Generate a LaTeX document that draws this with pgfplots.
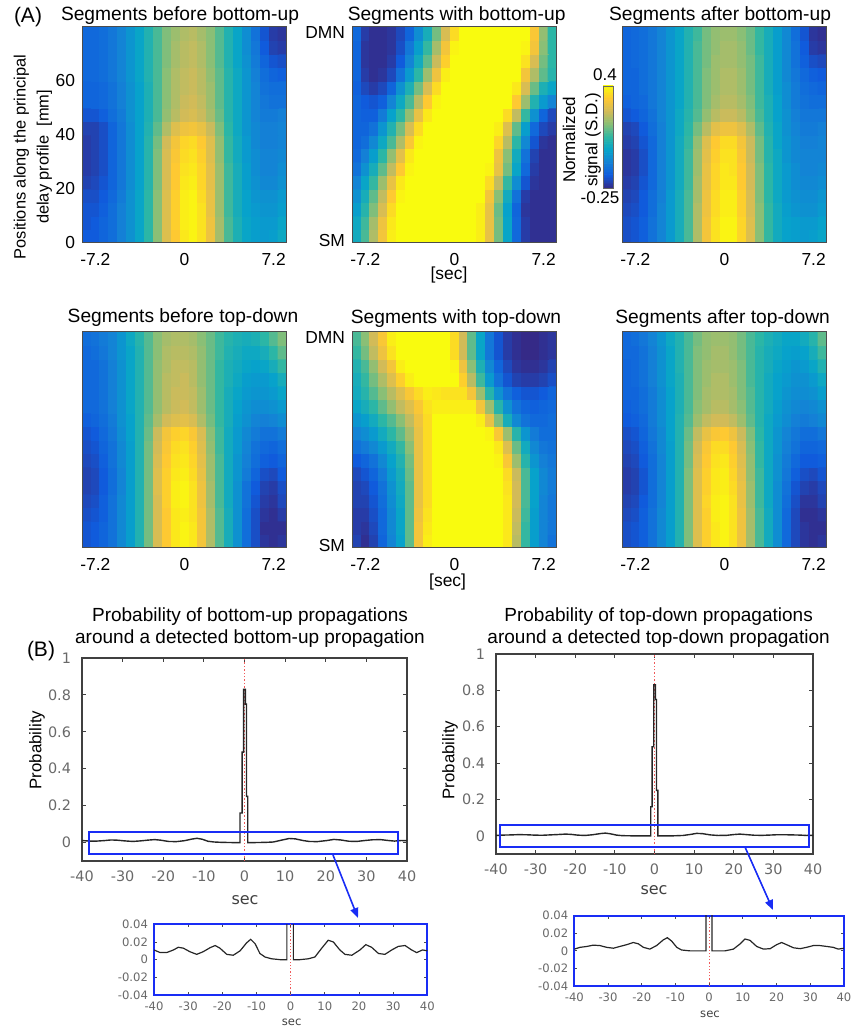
\documentclass[border=0pt]{standalone}
\usepackage{fontspec}
\setmainfont{Liberation Sans}
\newfontfamily\dejavu{DejaVu Sans}
\usepackage{pgfplots}
\usepackage{pgfplotstable}
\pgfplotsset{compat=1.18}
\usetikzlibrary{calc,arrows.meta}

\newcommand\tickfont{\fontsize{8.7pt}{10pt}\selectfont}
\newcommand\ttlfont{\fontsize{9.6pt}{11pt}\selectfont}
\newcommand\labfont{\fontsize{8.5pt}{9pt}\selectfont}
\newcommand\btick{\dejavu\fontsize{7.2pt}{8pt}\selectfont}
\newcommand\itick{\dejavu\fontsize{5.8pt}{7pt}\selectfont}
\definecolor{zoomblue}{RGB}{25,45,245}
\definecolor{refred}{RGB}{240,90,90}
\definecolor{ticktext}{RGB}{105,105,105}

% ---- heat maps: 16 rows (bottom to top, 0..80 mm) x 23 columns (-7.92..7.92 s)
\pgfplotstableread[row sep=\\,header=false]{
-0.17\\-0.17\\-0.15\\-0.13\\-0.09\\-0.05\\0.00\\0.07\\0.16\\0.26\\0.32\\0.37\\0.39\\0.36\\0.29\\0.19\\0.10\\0.04\\0.00\\-0.02\\-0.03\\-0.02\\0.01\\
-0.18\\-0.17\\-0.15\\-0.13\\-0.09\\-0.05\\0.00\\0.07\\0.16\\0.26\\0.33\\0.38\\0.39\\0.36\\0.29\\0.19\\0.10\\0.04\\0.00\\-0.02\\-0.03\\-0.03\\0.00\\
-0.18\\-0.18\\-0.16\\-0.13\\-0.09\\-0.05\\0.00\\0.07\\0.16\\0.26\\0.33\\0.38\\0.39\\0.36\\0.28\\0.18\\0.09\\0.03\\-0.01\\-0.03\\-0.04\\-0.04\\-0.02\\
-0.19\\-0.19\\-0.17\\-0.14\\-0.10\\-0.05\\0.00\\0.07\\0.16\\0.26\\0.33\\0.38\\0.39\\0.35\\0.28\\0.18\\0.09\\0.03\\-0.01\\-0.04\\-0.05\\-0.05\\-0.03\\
-0.21\\-0.20\\-0.18\\-0.15\\-0.11\\-0.06\\-0.01\\0.06\\0.15\\0.25\\0.32\\0.37\\0.38\\0.34\\0.27\\0.18\\0.09\\0.03\\-0.02\\-0.05\\-0.07\\-0.07\\-0.05\\
-0.22\\-0.21\\-0.19\\-0.15\\-0.11\\-0.06\\-0.01\\0.06\\0.15\\0.25\\0.32\\0.36\\0.37\\0.34\\0.27\\0.18\\0.09\\0.03\\-0.02\\-0.06\\-0.08\\-0.08\\-0.06\\
-0.22\\-0.21\\-0.19\\-0.15\\-0.11\\-0.06\\-0.01\\0.06\\0.15\\0.25\\0.31\\0.35\\0.36\\0.33\\0.26\\0.17\\0.08\\0.02\\-0.03\\-0.06\\-0.08\\-0.08\\-0.07\\
-0.22\\-0.21\\-0.19\\-0.15\\-0.11\\-0.06\\-0.01\\0.06\\0.14\\0.24\\0.30\\0.34\\0.35\\0.32\\0.26\\0.17\\0.08\\0.02\\-0.03\\-0.07\\-0.09\\-0.09\\-0.08\\
-0.21\\-0.21\\-0.19\\-0.15\\-0.11\\-0.06\\-0.01\\0.05\\0.12\\0.20\\0.26\\0.29\\0.30\\0.28\\0.23\\0.15\\0.07\\0.01\\-0.04\\-0.07\\-0.09\\-0.09\\-0.08\\
-0.18\\-0.18\\-0.16\\-0.13\\-0.10\\-0.05\\-0.01\\0.04\\0.10\\0.17\\0.21\\0.24\\0.25\\0.23\\0.19\\0.13\\0.06\\0.01\\-0.04\\-0.08\\-0.10\\-0.10\\-0.09\\
-0.15\\-0.15\\-0.14\\-0.12\\-0.09\\-0.05\\-0.01\\0.04\\0.10\\0.16\\0.20\\0.23\\0.24\\0.22\\0.18\\0.12\\0.06\\0.01\\-0.04\\-0.08\\-0.11\\-0.12\\-0.12\\
-0.15\\-0.15\\-0.14\\-0.12\\-0.09\\-0.05\\-0.01\\0.04\\0.10\\0.16\\0.20\\0.22\\0.23\\0.21\\0.18\\0.12\\0.06\\0.01\\-0.04\\-0.08\\-0.12\\-0.13\\-0.13\\
-0.14\\-0.14\\-0.13\\-0.11\\-0.08\\-0.04\\0.00\\0.05\\0.10\\0.16\\0.20\\0.22\\0.23\\0.21\\0.17\\0.12\\0.06\\0.01\\-0.04\\-0.09\\-0.13\\-0.15\\-0.16\\
-0.14\\-0.14\\-0.13\\-0.11\\-0.08\\-0.04\\0.00\\0.05\\0.10\\0.15\\0.19\\0.21\\0.22\\0.20\\0.16\\0.11\\0.05\\0.00\\-0.05\\-0.10\\-0.15\\-0.18\\-0.19\\
-0.14\\-0.14\\-0.13\\-0.11\\-0.08\\-0.04\\0.00\\0.05\\0.10\\0.15\\0.19\\0.21\\0.22\\0.20\\0.16\\0.11\\0.05\\0.00\\-0.06\\-0.11\\-0.17\\-0.21\\-0.22\\
-0.14\\-0.14\\-0.13\\-0.11\\-0.08\\-0.04\\0.00\\0.05\\0.10\\0.15\\0.18\\0.20\\0.21\\0.19\\0.16\\0.11\\0.05\\0.00\\-0.06\\-0.12\\-0.18\\-0.22\\-0.23\\
}\mapAa

\pgfplotstableread[row sep=\\,header=false]{
0.02\\0.10\\0.20\\0.30\\0.38\\0.40\\0.40\\0.40\\0.40\\0.40\\0.40\\0.40\\0.40\\0.40\\0.38\\0.28\\0.14\\0.00\\-0.14\\-0.22\\-0.24\\-0.24\\-0.24\\
0.01\\0.09\\0.19\\0.29\\0.37\\0.40\\0.40\\0.40\\0.40\\0.40\\0.40\\0.40\\0.40\\0.40\\0.38\\0.28\\0.14\\0.00\\-0.14\\-0.22\\-0.24\\-0.24\\-0.24\\
-0.02\\0.06\\0.15\\0.25\\0.35\\0.40\\0.40\\0.40\\0.40\\0.40\\0.40\\0.40\\0.40\\0.40\\0.38\\0.28\\0.13\\-0.01\\-0.15\\-0.23\\-0.24\\-0.24\\-0.24\\
-0.05\\0.03\\0.12\\0.22\\0.32\\0.39\\0.40\\0.40\\0.40\\0.40\\0.40\\0.40\\0.40\\0.40\\0.40\\0.30\\0.16\\0.02\\-0.12\\-0.22\\-0.24\\-0.24\\-0.24\\
-0.08\\0.00\\0.08\\0.18\\0.28\\0.37\\0.40\\0.40\\0.40\\0.40\\0.40\\0.40\\0.40\\0.40\\0.40\\0.35\\0.22\\0.08\\-0.06\\-0.18\\-0.23\\-0.24\\-0.24\\
-0.12\\-0.05\\0.03\\0.12\\0.22\\0.32\\0.39\\0.40\\0.40\\0.40\\0.40\\0.40\\0.40\\0.40\\0.40\\0.39\\0.28\\0.14\\0.00\\-0.14\\-0.22\\-0.24\\-0.24\\
-0.14\\-0.09\\-0.02\\0.07\\0.17\\0.27\\0.37\\0.40\\0.40\\0.40\\0.40\\0.40\\0.40\\0.40\\0.40\\0.40\\0.29\\0.16\\0.02\\-0.12\\-0.21\\-0.24\\-0.24\\
-0.15\\-0.13\\-0.07\\0.01\\0.10\\0.20\\0.31\\0.39\\0.40\\0.40\\0.40\\0.40\\0.40\\0.40\\0.40\\0.40\\0.34\\0.21\\0.07\\-0.07\\-0.18\\-0.23\\-0.24\\
-0.15\\-0.15\\-0.12\\-0.04\\0.05\\0.14\\0.25\\0.35\\0.40\\0.40\\0.40\\0.40\\0.40\\0.40\\0.40\\0.40\\0.38\\0.26\\0.12\\-0.02\\-0.14\\-0.20\\-0.22\\
-0.15\\-0.16\\-0.16\\-0.10\\-0.01\\0.07\\0.17\\0.28\\0.37\\0.40\\0.40\\0.40\\0.40\\0.40\\0.40\\0.40\\0.40\\0.35\\0.22\\0.08\\-0.05\\-0.15\\-0.20\\
-0.15\\-0.17\\-0.18\\-0.16\\-0.08\\0.01\\0.10\\0.21\\0.32\\0.39\\0.40\\0.40\\0.40\\0.40\\0.40\\0.40\\0.40\\0.40\\0.32\\0.18\\0.05\\-0.03\\-0.08\\
-0.16\\-0.20\\-0.22\\-0.20\\-0.15\\-0.05\\0.04\\0.14\\0.25\\0.35\\0.40\\0.40\\0.40\\0.40\\0.40\\0.40\\0.40\\0.40\\0.37\\0.25\\0.13\\0.04\\0.00\\
-0.15\\-0.22\\-0.24\\-0.23\\-0.20\\-0.12\\-0.03\\0.07\\0.18\\0.29\\0.38\\0.40\\0.40\\0.40\\0.40\\0.40\\0.40\\0.40\\0.40\\0.30\\0.20\\0.12\\0.06\\
-0.15\\-0.23\\-0.24\\-0.24\\-0.22\\-0.17\\-0.08\\0.02\\0.12\\0.23\\0.33\\0.40\\0.40\\0.40\\0.40\\0.40\\0.40\\0.40\\0.40\\0.36\\0.25\\0.14\\0.07\\
-0.15\\-0.23\\-0.24\\-0.24\\-0.23\\-0.19\\-0.11\\-0.02\\0.08\\0.19\\0.30\\0.39\\0.40\\0.40\\0.40\\0.40\\0.40\\0.40\\0.40\\0.39\\0.30\\0.16\\0.07\\
-0.14\\-0.22\\-0.24\\-0.24\\-0.23\\-0.20\\-0.15\\-0.06\\0.03\\0.14\\0.25\\0.35\\0.40\\0.40\\0.40\\0.40\\0.40\\0.40\\0.40\\0.40\\0.31\\0.17\\0.07\\
}\mapAb

\pgfplotstableread[row sep=\\,header=false]{
-0.19\\-0.18\\-0.16\\-0.12\\-0.08\\-0.03\\0.03\\0.10\\0.20\\0.30\\0.36\\0.39\\0.39\\0.34\\0.26\\0.16\\0.08\\0.02\\-0.01\\-0.02\\-0.03\\-0.02\\0.00\\
-0.19\\-0.18\\-0.16\\-0.12\\-0.08\\-0.03\\0.03\\0.10\\0.20\\0.30\\0.36\\0.39\\0.39\\0.34\\0.26\\0.16\\0.08\\0.02\\-0.01\\-0.02\\-0.03\\-0.03\\-0.01\\
-0.20\\-0.19\\-0.17\\-0.13\\-0.08\\-0.03\\0.03\\0.10\\0.20\\0.29\\0.35\\0.38\\0.38\\0.33\\0.25\\0.16\\0.08\\0.02\\-0.02\\-0.04\\-0.05\\-0.05\\-0.03\\
-0.21\\-0.20\\-0.17\\-0.13\\-0.09\\-0.03\\0.03\\0.10\\0.19\\0.29\\0.35\\0.38\\0.38\\0.33\\0.25\\0.15\\0.07\\0.01\\-0.03\\-0.05\\-0.06\\-0.06\\-0.04\\
-0.22\\-0.21\\-0.18\\-0.14\\-0.09\\-0.04\\0.02\\0.09\\0.19\\0.28\\0.34\\0.37\\0.37\\0.32\\0.24\\0.15\\0.07\\0.01\\-0.03\\-0.06\\-0.07\\-0.07\\-0.06\\
-0.23\\-0.22\\-0.19\\-0.14\\-0.09\\-0.04\\0.02\\0.09\\0.18\\0.28\\0.34\\0.37\\0.36\\0.32\\0.24\\0.15\\0.07\\0.01\\-0.03\\-0.06\\-0.08\\-0.08\\-0.07\\
-0.23\\-0.22\\-0.19\\-0.14\\-0.09\\-0.04\\0.02\\0.09\\0.18\\0.27\\0.33\\0.36\\0.36\\0.31\\0.23\\0.14\\0.06\\0.01\\-0.04\\-0.07\\-0.08\\-0.08\\-0.08\\
-0.22\\-0.21\\-0.18\\-0.14\\-0.09\\-0.04\\0.02\\0.08\\0.17\\0.26\\0.32\\0.35\\0.35\\0.30\\0.23\\0.14\\0.06\\0.00\\-0.04\\-0.07\\-0.09\\-0.09\\-0.08\\
-0.21\\-0.20\\-0.17\\-0.13\\-0.09\\-0.04\\0.01\\0.07\\0.14\\0.21\\0.27\\0.29\\0.29\\0.26\\0.20\\0.12\\0.05\\0.00\\-0.05\\-0.08\\-0.10\\-0.10\\-0.09\\
-0.18\\-0.17\\-0.15\\-0.12\\-0.08\\-0.04\\0.01\\0.06\\0.11\\0.17\\0.21\\0.23\\0.23\\0.21\\0.16\\0.10\\0.04\\-0.01\\-0.05\\-0.09\\-0.11\\-0.11\\-0.11\\
-0.16\\-0.15\\-0.14\\-0.11\\-0.08\\-0.04\\0.00\\0.05\\0.10\\0.15\\0.19\\0.21\\0.21\\0.19\\0.15\\0.09\\0.04\\-0.01\\-0.06\\-0.10\\-0.12\\-0.13\\-0.13\\
-0.15\\-0.15\\-0.13\\-0.11\\-0.08\\-0.04\\0.00\\0.05\\0.10\\0.15\\0.18\\0.20\\0.20\\0.18\\0.14\\0.09\\0.03\\-0.02\\-0.06\\-0.10\\-0.13\\-0.14\\-0.15\\
-0.15\\-0.15\\-0.13\\-0.11\\-0.08\\-0.04\\0.00\\0.05\\0.10\\0.15\\0.18\\0.20\\0.20\\0.18\\0.14\\0.09\\0.03\\-0.02\\-0.07\\-0.11\\-0.14\\-0.16\\-0.17\\
-0.15\\-0.14\\-0.13\\-0.11\\-0.08\\-0.04\\0.00\\0.05\\0.10\\0.14\\0.18\\0.19\\0.19\\0.17\\0.14\\0.09\\0.03\\-0.02\\-0.07\\-0.12\\-0.16\\-0.19\\-0.20\\
-0.15\\-0.14\\-0.13\\-0.11\\-0.08\\-0.04\\0.00\\0.05\\0.10\\0.14\\0.17\\0.19\\0.19\\0.17\\0.13\\0.08\\0.03\\-0.02\\-0.07\\-0.12\\-0.17\\-0.22\\-0.23\\
-0.15\\-0.14\\-0.13\\-0.11\\-0.08\\-0.04\\0.00\\0.05\\0.09\\0.14\\0.17\\0.18\\0.18\\0.16\\0.13\\0.08\\0.03\\-0.02\\-0.07\\-0.13\\-0.18\\-0.23\\-0.24\\
}\mapAc

\pgfplotstableread[row sep=\\,header=false]{
-0.18\\-0.17\\-0.15\\-0.12\\-0.07\\-0.02\\0.05\\0.14\\0.25\\0.32\\0.37\\0.39\\0.37\\0.30\\0.20\\0.11\\0.03\\-0.05\\-0.13\\-0.19\\-0.23\\-0.24\\-0.23\\
-0.18\\-0.17\\-0.15\\-0.12\\-0.07\\-0.02\\0.05\\0.14\\0.25\\0.32\\0.37\\0.39\\0.37\\0.30\\0.20\\0.11\\0.03\\-0.05\\-0.13\\-0.19\\-0.24\\-0.24\\-0.24\\
-0.19\\-0.18\\-0.16\\-0.12\\-0.07\\-0.02\\0.05\\0.14\\0.25\\0.32\\0.37\\0.38\\0.36\\0.30\\0.20\\0.11\\0.03\\-0.05\\-0.13\\-0.19\\-0.23\\-0.24\\-0.22\\
-0.20\\-0.19\\-0.16\\-0.12\\-0.07\\-0.02\\0.05\\0.14\\0.25\\0.33\\0.38\\0.39\\0.36\\0.29\\0.19\\0.10\\0.02\\-0.05\\-0.12\\-0.18\\-0.22\\-0.23\\-0.20\\
-0.21\\-0.20\\-0.17\\-0.13\\-0.08\\-0.02\\0.05\\0.14\\0.26\\0.33\\0.38\\0.39\\0.36\\0.29\\0.19\\0.10\\0.02\\-0.05\\-0.12\\-0.17\\-0.21\\-0.22\\-0.19\\
-0.21\\-0.20\\-0.17\\-0.13\\-0.08\\-0.02\\0.05\\0.14\\0.26\\0.33\\0.37\\0.38\\0.35\\0.28\\0.18\\0.10\\0.02\\-0.04\\-0.10\\-0.15\\-0.19\\-0.20\\-0.17\\
-0.20\\-0.19\\-0.16\\-0.12\\-0.07\\-0.02\\0.05\\0.14\\0.25\\0.32\\0.36\\0.37\\0.34\\0.27\\0.18\\0.10\\0.02\\-0.04\\-0.09\\-0.13\\-0.16\\-0.17\\-0.15\\
-0.19\\-0.18\\-0.15\\-0.12\\-0.07\\-0.02\\0.05\\0.14\\0.24\\0.31\\0.35\\0.36\\0.33\\0.26\\0.17\\0.09\\0.02\\-0.03\\-0.08\\-0.12\\-0.14\\-0.15\\-0.13\\
-0.18\\-0.17\\-0.14\\-0.11\\-0.06\\-0.01\\0.05\\0.13\\0.23\\0.30\\0.33\\0.34\\0.31\\0.25\\0.16\\0.09\\0.02\\-0.03\\-0.07\\-0.10\\-0.12\\-0.12\\-0.10\\
-0.16\\-0.15\\-0.13\\-0.10\\-0.05\\-0.01\\0.05\\0.12\\0.19\\0.24\\0.26\\0.27\\0.25\\0.20\\0.14\\0.08\\0.03\\-0.02\\-0.05\\-0.08\\-0.09\\-0.08\\-0.06\\
-0.14\\-0.14\\-0.12\\-0.09\\-0.05\\0.00\\0.05\\0.11\\0.17\\0.21\\0.23\\0.24\\0.22\\0.18\\0.13\\0.08\\0.03\\-0.01\\-0.04\\-0.06\\-0.06\\-0.05\\-0.03\\
-0.14\\-0.14\\-0.12\\-0.09\\-0.05\\0.00\\0.05\\0.11\\0.17\\0.21\\0.23\\0.23\\0.22\\0.18\\0.13\\0.08\\0.03\\0.00\\-0.03\\-0.04\\-0.04\\-0.03\\0.00\\
-0.14\\-0.14\\-0.12\\-0.09\\-0.05\\0.00\\0.05\\0.11\\0.17\\0.21\\0.22\\0.23\\0.21\\0.17\\0.13\\0.08\\0.04\\0.01\\-0.02\\-0.03\\-0.03\\-0.01\\0.03\\
-0.14\\-0.14\\-0.12\\-0.09\\-0.05\\0.00\\0.05\\0.11\\0.17\\0.20\\0.22\\0.22\\0.21\\0.17\\0.13\\0.08\\0.04\\0.02\\0.00\\-0.01\\0.00\\0.03\\0.08\\
-0.14\\-0.13\\-0.11\\-0.08\\-0.04\\0.00\\0.05\\0.11\\0.16\\0.20\\0.21\\0.21\\0.20\\0.17\\0.13\\0.09\\0.05\\0.03\\0.01\\0.01\\0.03\\0.07\\0.12\\
-0.13\\-0.12\\-0.10\\-0.08\\-0.04\\0.01\\0.06\\0.11\\0.16\\0.19\\0.20\\0.20\\0.19\\0.16\\0.13\\0.09\\0.06\\0.04\\0.03\\0.04\\0.07\\0.11\\0.15\\
}\mapBa

\pgfplotstableread[row sep=\\,header=false]{
-0.21\\-0.24\\-0.21\\-0.15\\-0.08\\-0.01\\0.12\\0.30\\0.38\\0.40\\0.40\\0.40\\0.40\\0.40\\0.40\\0.40\\0.40\\0.37\\0.21\\0.08\\-0.02\\-0.08\\-0.12\\
-0.22\\-0.23\\-0.20\\-0.14\\-0.07\\0.00\\0.12\\0.30\\0.37\\0.40\\0.40\\0.40\\0.40\\0.40\\0.40\\0.40\\0.40\\0.37\\0.22\\0.08\\-0.02\\-0.08\\-0.11\\
-0.22\\-0.22\\-0.19\\-0.14\\-0.07\\0.00\\0.12\\0.29\\0.36\\0.40\\0.40\\0.40\\0.40\\0.40\\0.40\\0.40\\0.40\\0.37\\0.23\\0.09\\-0.02\\-0.08\\-0.11\\
-0.21\\-0.21\\-0.18\\-0.13\\-0.06\\0.01\\0.12\\0.28\\0.35\\0.40\\0.40\\0.40\\0.40\\0.40\\0.40\\0.40\\0.40\\0.37\\0.24\\0.10\\-0.01\\-0.08\\-0.11\\
-0.21\\-0.20\\-0.17\\-0.12\\-0.05\\0.02\\0.12\\0.28\\0.35\\0.40\\0.40\\0.40\\0.40\\0.40\\0.40\\0.40\\0.40\\0.36\\0.24\\0.10\\-0.01\\-0.07\\-0.10\\
-0.20\\-0.18\\-0.15\\-0.10\\-0.03\\0.03\\0.13\\0.28\\0.35\\0.40\\0.40\\0.40\\0.40\\0.40\\0.40\\0.40\\0.40\\0.35\\0.23\\0.10\\-0.01\\-0.07\\-0.10\\
-0.17\\-0.15\\-0.12\\-0.07\\-0.01\\0.05\\0.14\\0.28\\0.35\\0.40\\0.40\\0.40\\0.40\\0.40\\0.40\\0.40\\0.39\\0.31\\0.18\\0.06\\-0.04\\-0.09\\-0.11\\
-0.12\\-0.10\\-0.07\\-0.03\\0.02\\0.08\\0.16\\0.28\\0.35\\0.40\\0.40\\0.40\\0.40\\0.40\\0.40\\0.40\\0.37\\0.26\\0.13\\0.02\\-0.07\\-0.11\\-0.12\\
-0.08\\-0.06\\-0.03\\0.02\\0.07\\0.12\\0.19\\0.28\\0.35\\0.40\\0.40\\0.40\\0.40\\0.40\\0.40\\0.39\\0.31\\0.18\\0.06\\-0.04\\-0.10\\-0.13\\-0.13\\
-0.04\\-0.02\\0.02\\0.07\\0.11\\0.16\\0.22\\0.29\\0.35\\0.40\\0.40\\0.40\\0.40\\0.40\\0.38\\0.28\\0.15\\0.03\\-0.07\\-0.12\\-0.14\\-0.14\\-0.13\\
0.00\\0.03\\0.07\\0.12\\0.17\\0.22\\0.26\\0.31\\0.36\\0.38\\0.38\\0.38\\0.38\\0.38\\0.30\\0.18\\0.06\\-0.05\\-0.12\\-0.15\\-0.16\\-0.15\\-0.14\\
0.02\\0.06\\0.11\\0.16\\0.21\\0.26\\0.31\\0.35\\0.38\\0.37\\0.36\\0.36\\0.36\\0.30\\0.18\\0.06\\-0.05\\-0.12\\-0.16\\-0.18\\-0.18\\-0.17\\-0.15\\
0.03\\0.08\\0.14\\0.20\\0.26\\0.33\\0.38\\0.40\\0.40\\0.40\\0.40\\0.40\\0.33\\0.21\\0.09\\-0.03\\-0.12\\-0.18\\-0.21\\-0.22\\-0.22\\-0.21\\-0.19\\
0.05\\0.10\\0.17\\0.24\\0.30\\0.38\\0.40\\0.40\\0.40\\0.40\\0.40\\0.39\\0.29\\0.16\\0.04\\-0.07\\-0.15\\-0.20\\-0.23\\-0.24\\-0.24\\-0.23\\-0.21\\
0.08\\0.14\\0.22\\0.29\\0.36\\0.40\\0.40\\0.40\\0.40\\0.40\\0.40\\0.35\\0.24\\0.12\\0.00\\-0.11\\-0.18\\-0.22\\-0.24\\-0.25\\-0.25\\-0.24\\-0.23\\
0.10\\0.16\\0.24\\0.31\\0.38\\0.40\\0.40\\0.40\\0.40\\0.40\\0.40\\0.35\\0.24\\0.12\\0.00\\-0.11\\-0.18\\-0.22\\-0.24\\-0.25\\-0.25\\-0.24\\-0.23\\
}\mapBb

\pgfplotstableread[row sep=\\,header=false]{
-0.19\\-0.18\\-0.16\\-0.12\\-0.07\\-0.02\\0.05\\0.15\\0.26\\0.33\\0.37\\0.39\\0.36\\0.29\\0.19\\0.10\\0.02\\-0.06\\-0.14\\-0.20\\-0.23\\-0.24\\-0.23\\
-0.19\\-0.18\\-0.16\\-0.12\\-0.07\\-0.02\\0.05\\0.15\\0.26\\0.33\\0.37\\0.39\\0.36\\0.29\\0.19\\0.10\\0.02\\-0.06\\-0.14\\-0.20\\-0.23\\-0.24\\-0.24\\
-0.20\\-0.19\\-0.16\\-0.12\\-0.07\\-0.02\\0.05\\0.15\\0.26\\0.33\\0.38\\0.39\\0.36\\0.29\\0.19\\0.10\\0.02\\-0.06\\-0.14\\-0.20\\-0.24\\-0.24\\-0.23\\
-0.21\\-0.20\\-0.17\\-0.13\\-0.08\\-0.02\\0.05\\0.15\\0.26\\0.34\\0.38\\0.39\\0.36\\0.28\\0.18\\0.09\\0.01\\-0.06\\-0.13\\-0.19\\-0.23\\-0.23\\-0.21\\
-0.22\\-0.21\\-0.18\\-0.13\\-0.08\\-0.02\\0.05\\0.15\\0.26\\0.33\\0.37\\0.38\\0.35\\0.28\\0.18\\0.09\\0.01\\-0.06\\-0.12\\-0.18\\-0.21\\-0.22\\-0.20\\
-0.22\\-0.21\\-0.18\\-0.13\\-0.08\\-0.02\\0.05\\0.15\\0.26\\0.33\\0.37\\0.38\\0.34\\0.27\\0.17\\0.09\\0.01\\-0.05\\-0.11\\-0.16\\-0.19\\-0.20\\-0.18\\
-0.21\\-0.20\\-0.17\\-0.13\\-0.08\\-0.02\\0.05\\0.14\\0.25\\0.32\\0.36\\0.37\\0.33\\0.26\\0.17\\0.08\\0.01\\-0.05\\-0.10\\-0.14\\-0.17\\-0.17\\-0.16\\
-0.20\\-0.19\\-0.16\\-0.12\\-0.07\\-0.02\\0.05\\0.14\\0.24\\0.31\\0.35\\0.35\\0.32\\0.25\\0.16\\0.08\\0.01\\-0.04\\-0.09\\-0.12\\-0.15\\-0.15\\-0.14\\
-0.19\\-0.18\\-0.15\\-0.11\\-0.07\\-0.01\\0.05\\0.13\\0.22\\0.28\\0.31\\0.32\\0.29\\0.23\\0.15\\0.07\\0.01\\-0.04\\-0.08\\-0.11\\-0.13\\-0.13\\-0.11\\
-0.17\\-0.16\\-0.14\\-0.10\\-0.06\\-0.01\\0.05\\0.11\\0.18\\0.22\\0.24\\0.24\\0.22\\0.18\\0.12\\0.06\\0.01\\-0.03\\-0.06\\-0.09\\-0.10\\-0.09\\-0.07\\
-0.16\\-0.15\\-0.13\\-0.10\\-0.06\\-0.01\\0.04\\0.10\\0.16\\0.19\\0.21\\0.21\\0.19\\0.16\\0.11\\0.06\\0.02\\-0.02\\-0.05\\-0.07\\-0.08\\-0.07\\-0.05\\
-0.15\\-0.15\\-0.13\\-0.10\\-0.06\\-0.01\\0.04\\0.10\\0.15\\0.19\\0.20\\0.20\\0.19\\0.15\\0.11\\0.06\\0.02\\-0.01\\-0.04\\-0.06\\-0.06\\-0.05\\-0.02\\
-0.15\\-0.14\\-0.12\\-0.09\\-0.05\\0.00\\0.04\\0.10\\0.15\\0.18\\0.20\\0.20\\0.18\\0.15\\0.10\\0.06\\0.02\\-0.01\\-0.03\\-0.05\\-0.05\\-0.03\\0.01\\
-0.15\\-0.14\\-0.12\\-0.09\\-0.05\\0.00\\0.05\\0.10\\0.15\\0.18\\0.19\\0.19\\0.18\\0.15\\0.10\\0.06\\0.03\\0.00\\-0.02\\-0.04\\-0.03\\0.00\\0.05\\
-0.14\\-0.14\\-0.12\\-0.09\\-0.05\\0.00\\0.05\\0.10\\0.15\\0.17\\0.19\\0.19\\0.17\\0.14\\0.10\\0.06\\0.03\\0.01\\-0.01\\-0.02\\-0.01\\0.03\\0.09\\
-0.14\\-0.13\\-0.11\\-0.08\\-0.04\\0.01\\0.05\\0.10\\0.14\\0.17\\0.18\\0.18\\0.17\\0.14\\0.10\\0.07\\0.04\\0.02\\0.00\\0.00\\0.02\\0.06\\0.12\\
}\mapBc

\pgfplotsset{
  colormap={parula}{rgb255=(53,42,135) rgb255=(15,92,221) rgb255=(20,129,214) rgb255=(6,164,202) rgb255=(46,183,164) rgb255=(135,191,119) rgb255=(209,187,89) rgb255=(254,200,50) rgb255=(249,251,14)},
  heat/.style={scale only axis, width=102.5pt, height=108pt, anchor=north west,
    xmin=-8.28, xmax=8.28, ymin=0, ymax=80, enlargelimits=false,
    colormap name=parula, point meta min=-0.25, point meta max=0.4,
    axis line style={draw=black!70, line width=0.5pt},
    major tick length=0pt,
    xtick={-7.2,0,7.2}, xticklabels={-7.2,0,7.2},
    ytick=\empty,
    tick label style={font=\tickfont},
    xticklabel style={yshift=-1.5pt},
    axis on top},
  probmain/.style={scale only axis, anchor=north west,
    xmin=-40, xmax=40, ymin=-0.1, ymax=1,
    xtick={-40,-30,-20,-10,0,10,20,30,40},
    xticklabels={-40,-30,-20,-10,0,10,20,30,40},
    ytick={0,0.2,0.4,0.6,0.8,1},
    yticklabels={0,0.2,0.4,0.6,0.8,1},
    scaled ticks=false,
    tick align=inside, major tick length=2.2pt,
    axis line style={draw=black!75, line width=0.6pt},
    tick style={draw=black!75, line width=0.5pt},
    tick label style={font=\btick, text=ticktext},
    xticklabel style={yshift=-1.5pt},
    yticklabel style={xshift=-2pt}},
  probinset/.style={scale only axis, anchor=north west,
    xmin=-40, xmax=40, ymin=-0.04, ymax=0.04,
    xtick={-40,-30,-20,-10,0,10,20,30,40},
    xticklabels={-40,-30,-20,-10,0,10,20,30,40},
    ytick={-0.04,-0.02,0,0.02,0.04},
    yticklabels={-0.04,-0.02,0,0.02,0.04},
    scaled ticks=false,
    tick align=inside, major tick length=1.5pt,
    axis line style={draw=zoomblue, line width=1pt},
    tick style={draw=black!70, line width=0.4pt},
    tick label style={font=\itick, text=ticktext},
    yticklabel style={xshift=0.5pt}},
}
\newcommand\heat[1]{\addplot[matrix plot*, mesh/cols=23, point meta=explicit]
  table[x index=0, y index=0, z index=0, meta index=0,
        x expr={-7.92+0.72*(\coordindex-23*floor((\coordindex+0.5)/23))},
        y expr={2.5+5*floor((\coordindex+0.5)/23)}] {#1};}

\begin{document}
\begin{tikzpicture}
\path[use as bounding box] (0,0) rectangle (426pt,-515.5pt);

% ===== Panel A, row 1
\begin{axis}[heat, at={(41pt,-13.5pt)}, ytick={0,20,40,60}, yticklabels={0,20,40,60}]
\heat{\mapAa}
\end{axis}
\begin{axis}[heat, at={(176pt,-13.5pt)}, ytick={0.8,78}, yticklabels={SM,DMN}]
\heat{\mapAb}
\end{axis}
\begin{axis}[heat, at={(311pt,-13.5pt)}]
\heat{\mapAc}
\end{axis}

% colour scale (-0.25 .. 0.4)
\begin{axis}[at={(301.5pt,-43pt)}, anchor=north west, scale only axis,
  width=5pt, height=51pt, xmin=0, xmax=1, ymin=-0.25, ymax=0.4,
  enlargelimits=false, xtick=\empty, ytick=\empty,
  colormap name=parula, point meta min=-0.25, point meta max=0.4,
  axis line style={draw=black!60, line width=0.4pt}, axis on top]
\addplot[matrix plot*, mesh/cols=2, point meta=y] coordinates {
(0.25,-0.25) (0.75,-0.25) (0.25,-0.24) (0.75,-0.24) (0.25,-0.23) (0.75,-0.23)
(0.25,-0.22) (0.75,-0.22) (0.25,-0.21) (0.75,-0.21) (0.25,-0.20) (0.75,-0.20)
(0.25,-0.19) (0.75,-0.19) (0.25,-0.18) (0.75,-0.18) (0.25,-0.17) (0.75,-0.17)
(0.25,-0.16) (0.75,-0.16) (0.25,-0.15) (0.75,-0.15) (0.25,-0.14) (0.75,-0.14)
(0.25,-0.13) (0.75,-0.13) (0.25,-0.12) (0.75,-0.12) (0.25,-0.11) (0.75,-0.11)
(0.25,-0.10) (0.75,-0.10) (0.25,-0.09) (0.75,-0.09) (0.25,-0.08) (0.75,-0.08)
(0.25,-0.07) (0.75,-0.07) (0.25,-0.06) (0.75,-0.06) (0.25,-0.05) (0.75,-0.05)
(0.25,-0.04) (0.75,-0.04) (0.25,-0.03) (0.75,-0.03) (0.25,-0.02) (0.75,-0.02)
(0.25,-0.01) (0.75,-0.01) (0.25,0.00) (0.75,0.00) (0.25,0.01) (0.75,0.01)
(0.25,0.02) (0.75,0.02) (0.25,0.03) (0.75,0.03) (0.25,0.04) (0.75,0.04)
(0.25,0.05) (0.75,0.05) (0.25,0.06) (0.75,0.06) (0.25,0.07) (0.75,0.07)
(0.25,0.08) (0.75,0.08) (0.25,0.09) (0.75,0.09) (0.25,0.10) (0.75,0.10)
(0.25,0.11) (0.75,0.11) (0.25,0.12) (0.75,0.12) (0.25,0.13) (0.75,0.13)
(0.25,0.14) (0.75,0.14) (0.25,0.15) (0.75,0.15) (0.25,0.16) (0.75,0.16)
(0.25,0.17) (0.75,0.17) (0.25,0.18) (0.75,0.18) (0.25,0.19) (0.75,0.19)
(0.25,0.20) (0.75,0.20) (0.25,0.21) (0.75,0.21) (0.25,0.22) (0.75,0.22)
(0.25,0.23) (0.75,0.23) (0.25,0.24) (0.75,0.24) (0.25,0.25) (0.75,0.25)
(0.25,0.26) (0.75,0.26) (0.25,0.27) (0.75,0.27) (0.25,0.28) (0.75,0.28)
(0.25,0.29) (0.75,0.29) (0.25,0.30) (0.75,0.30) (0.25,0.31) (0.75,0.31)
(0.25,0.32) (0.75,0.32) (0.25,0.33) (0.75,0.33) (0.25,0.34) (0.75,0.34)
(0.25,0.35) (0.75,0.35) (0.25,0.36) (0.75,0.36) (0.25,0.37) (0.75,0.37)
(0.25,0.38) (0.75,0.38) (0.25,0.39) (0.75,0.39) (0.25,0.40) (0.75,0.40)};
\end{axis}

% ===== Panel A, row 2
\begin{axis}[heat, at={(41pt,-166pt)}]
\heat{\mapBa}
\end{axis}
\begin{axis}[heat, at={(176pt,-166pt)}, ytick={0.8,78}, yticklabels={SM,DMN}]
\heat{\mapBb}
\end{axis}
\begin{axis}[heat, at={(311pt,-166pt)}]
\heat{\mapBc}
\end{axis}

% titles and labels of panel A
\node[font=\fontsize{10.5pt}{12pt}\selectfont] at (14pt,-8.5pt) {(A)};
\node[font=\ttlfont] at (90pt,-8pt) {Segments before bottom-up};
\node[font=\ttlfont] at (228.3pt,-7.8pt) {Segments with bottom-up};
\node[font=\ttlfont] at (360pt,-7.8pt) {Segments after bottom-up};
\node[font=\ttlfont] at (91.5pt,-158.8pt) {Segments before top-down};
\node[font=\ttlfont] at (228pt,-159.5pt) {Segments with top-down};
\node[font=\ttlfont] at (361.3pt,-159.2pt) {Segments after top-down};
\node[font=\fontsize{8.2pt}{11.5pt}\selectfont, rotate=90, align=center] at (16.5pt,-78.5pt)
  {Positions along the principal\\delay profile~ [mm]};
\node[font=\tickfont] at (224.5pt,-137.5pt) {[sec]};
\node[font=\tickfont] at (223.8pt,-291pt) {[sec]};
\node[font=\labfont] at (302.5pt,-37.3pt) {0.4};
\node[font=\labfont] at (300pt,-99pt) {-0.25};
\node[font=\labfont, rotate=90] at (284.5pt,-70pt) {Normalized};
\node[font=\labfont, rotate=90] at (296.5pt,-70pt) {signal (S.D.)};

% ===== Panel B
\begin{axis}[probmain, at={(41pt,-329pt)}, width=162.5pt, height=101.5pt]
\addplot[refred, densely dotted, line width=0.7pt] coordinates {(0,-0.1) (0,1)};
\addplot[black!85, line width=0.7pt] coordinates {
(-40,0.011) (-38.2,0.008) (-36.3,0.008) (-34.3,0.011) (-32.9,0.014) (-31.4,0.013)
(-29.5,0.009) (-27.5,0.006) (-25.6,0.009) (-23.6,0.0135) (-22.1,0.016) (-20.7,0.013)
(-18.7,0.006) (-16.8,0.005) (-14.8,0.010) (-12.9,0.019) (-11.7,0.023) (-10.4,0.018)
(-9.0,0.007) (-7.5,0.003) (-5.6,0.001) (-3.1,0) (-1.1,0) (-1.1,0.16) (-0.6,0.16)
(-0.6,0.49) (-0.2,0.49) (-0.2,0.83) (0.25,0.83) (0.25,0.75) (0.5,0.75) (0.5,0.25)
(0.8,0.25) (0.8,0) (2.7,0) (5.2,0.001) (7.1,0.003) (9.1,0.013) (11.0,0.022) (12.5,0.020)
(14.4,0.011) (15.9,0.006) (17.9,0.005) (20.3,0.011) (22.0,0.017) (23.7,0.014)
(25.7,0.007) (27.6,0.006) (29.6,0.011) (31.5,0.015) (33.5,0.016) (35.4,0.011)
(36.9,0.008) (38.6,0.011) (40,0.010)};
\draw[zoomblue, line width=1pt] (axis cs:-38.2,-0.064) rectangle (axis cs:37.8,0.059);
\end{axis}

\begin{axis}[probmain, at={(248pt,-327pt)}, width=158.5pt, height=100pt]
\addplot[refred, densely dotted, line width=0.7pt] coordinates {(0,-0.1) (0,1)};
\addplot[black!85, line width=0.7pt] coordinates {
(-40,0.002) (-38.3,0.004) (-36.3,0.005) (-34.4,0.0065) (-32.4,0.006) (-30.4,0.004)
(-28.4,0.003) (-26.5,0.005) (-24.5,0.007) (-22.5,0.0095) (-21.0,0.008) (-19.5,0.004)
(-17.6,0.002) (-15.6,0.006) (-13.6,0.0125) (-12.4,0.015) (-11.1,0.011) (-9.6,0.004)
(-8.2,0.001) (-5.7,0) (-3.2,0) (-0.94,0) (-0.94,0.16) (-0.6,0.16) (-0.6,0.49)
(-0.2,0.49) (-0.2,0.83) (0.25,0.83) (0.25,0.75) (0.5,0.75) (0.5,0.25) (0.84,0.25)
(0.84,0) (2.2,0) (4.7,0) (7.2,0.002) (9.2,0.008) (10.6,0.0135) (12.1,0.012) (14.1,0.005)
(16.1,0.002) (18.1,0.0025) (20.0,0.007) (21.5,0.0095) (23.0,0.007) (25.0,0.0035)
(27.0,0.0025) (28.9,0.004) (30.9,0.006) (32.9,0.006) (34.9,0.005) (36.8,0.004)
(38.3,0.002) (40,0.003)};
\draw[zoomblue, line width=1pt] (axis cs:-39,-0.06) rectangle (axis cs:39.1,0.06);
\end{axis}

\begin{axis}[probinset, at={(77pt,-462.15pt)}, width=136.65pt, height=35.35pt]
\addplot[refred, densely dotted, line width=0.6pt] coordinates {(0,-0.04) (0,0.04)};
\addplot[black!85, line width=0.6pt] coordinates {
(-40,0.011) (-38.2,0.008) (-36.3,0.008) (-34.3,0.011) (-32.9,0.014) (-31.4,0.013)
(-29.5,0.009) (-27.5,0.006) (-25.6,0.009) (-23.6,0.0135) (-22.1,0.016) (-20.7,0.013)
(-18.7,0.006) (-16.8,0.005) (-14.8,0.010) (-12.9,0.019) (-11.7,0.023) (-10.4,0.018)
(-9.0,0.007) (-7.5,0.003) (-5.6,0.001) (-3.1,0) (-1.1,0) (-1.1,0.16) (-0.6,0.16)
(-0.6,0.49) (-0.2,0.49) (-0.2,0.83) (0.25,0.83) (0.25,0.75) (0.5,0.75) (0.5,0.25)
(0.8,0.25) (0.8,0) (2.7,0) (5.2,0.001) (7.1,0.003) (9.1,0.013) (11.0,0.022) (12.5,0.020)
(14.4,0.011) (15.9,0.006) (17.9,0.005) (20.3,0.011) (22.0,0.017) (23.7,0.014)
(25.7,0.007) (27.6,0.006) (29.6,0.011) (31.5,0.015) (33.5,0.016) (35.4,0.011)
(36.9,0.008) (38.6,0.011) (40,0.010)};
\end{axis}

\begin{axis}[probinset, at={(287.15pt,-457.85pt)}, width=134.85pt, height=35.15pt]
\addplot[refred, densely dotted, line width=0.6pt] coordinates {(0,-0.04) (0,0.04)};
\addplot[black!85, line width=0.6pt] coordinates {
(-40,0.002) (-38.3,0.004) (-36.3,0.005) (-34.4,0.0065) (-32.4,0.006) (-30.4,0.004)
(-28.4,0.003) (-26.5,0.005) (-24.5,0.007) (-22.5,0.0095) (-21.0,0.008) (-19.5,0.004)
(-17.6,0.002) (-15.6,0.006) (-13.6,0.0125) (-12.4,0.015) (-11.1,0.011) (-9.6,0.004)
(-8.2,0.001) (-5.7,0) (-3.2,0) (-0.94,0) (-0.94,0.16) (-0.6,0.16) (-0.6,0.49)
(-0.2,0.49) (-0.2,0.83) (0.25,0.83) (0.25,0.75) (0.5,0.75) (0.5,0.25) (0.84,0.25)
(0.84,0) (2.2,0) (4.7,0) (7.2,0.002) (9.2,0.008) (10.6,0.0135) (12.1,0.012) (14.1,0.005)
(16.1,0.002) (18.1,0.0025) (20.0,0.007) (21.5,0.0095) (23.0,0.007) (25.0,0.0035)
(27.0,0.0025) (28.9,0.004) (30.9,0.006) (32.9,0.006) (34.9,0.005) (36.8,0.004)
(38.3,0.002) (40,0.003)};
\end{axis}

% labels of panel B
\node[font=\fontsize{10.5pt}{12pt}\selectfont] at (20.5pt,-325.5pt) {(B)};
\node[font=\fontsize{9.5pt}{10.8pt}\selectfont, align=center] at (125pt,-313.8pt)
  {Probability of bottom-up propagations\\around a detected bottom-up propagation};
\node[font=\fontsize{9.5pt}{10.8pt}\selectfont, align=center] at (329.3pt,-313.8pt)
  {Probability of top-down propagations\\around a detected top-down propagation};
\node[font=\fontsize{8.4pt}{9pt}\selectfont, rotate=90] at (18.5pt,-375pt) {Probability};
\node[font=\fontsize{8.4pt}{9pt}\selectfont, rotate=90] at (225pt,-380pt) {Probability};
\node[font=\dejavu\fontsize{8pt}{9pt}\selectfont, text=black!75] at (122.5pt,-450pt) {sec};
\node[font=\dejavu\fontsize{8pt}{9pt}\selectfont, text=black!75] at (327pt,-445pt) {sec};
\node[font=\itick, text=black!75] at (145.8pt,-511.3pt) {sec};
\node[font=\itick, text=black!75] at (355pt,-507pt) {sec};
\draw[zoomblue, line width=0.8pt, -{Triangle[length=5pt,width=4pt]}] (166.5pt,-427.5pt) -- (179pt,-459pt);
\draw[zoomblue, line width=0.8pt, -{Triangle[length=5pt,width=4pt]}] (372.5pt,-423.5pt) -- (386.5pt,-455pt);
\end{tikzpicture}
\end{document}
